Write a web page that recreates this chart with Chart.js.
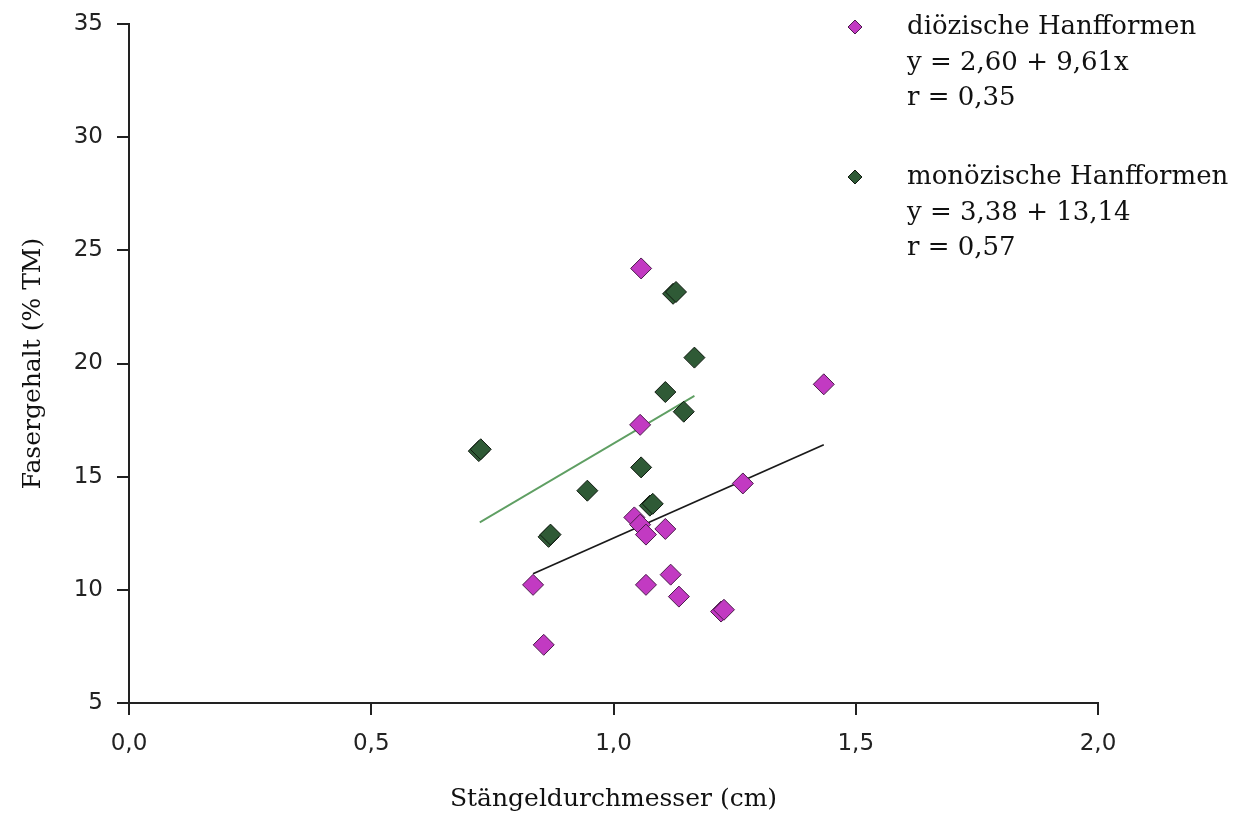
<!DOCTYPE html>
<html>
<head>
<meta charset="utf-8">
<script src="https://cdn.jsdelivr.net/npm/chart.js@4/dist/chart.umd.min.js"></script>
<style>
  html, body { margin: 0; padding: 0; background: #ffffff; }
  #wrap { width: 1236px; height: 818px; }
</style>
</head>
<body>
<div id="wrap"><canvas id="c" width="1236" height="818"></canvas></div>
<script>
// ---- data ----
const dioeX = [1.057, 1.434, 1.055, 1.267, 1.043, 1.055, 1.067, 1.107, 1.118, 0.834, 1.067, 1.135, 1.222, 1.228, 0.856];
const dioeY = [24.2, 19.08, 17.29, 14.70, 13.20, 12.88, 12.44, 12.69, 10.67, 10.22, 10.22, 9.70, 9.04, 9.12, 7.57];

const monoeX = [1.123, 1.129, 1.167, 1.107, 1.145, 0.722, 0.726, 1.057, 0.946, 1.075, 1.081, 0.866, 0.870];
const monoeY = [23.08, 23.16, 20.26, 18.74, 17.87, 16.13, 16.21, 15.41, 14.38, 13.72, 13.80, 12.34, 12.44];

const dioeLineX = [0.834, 1.434];
const dioeLineY = [10.71, 16.41];
const monoeLineX = [0.724, 1.167];
const monoeLineY = [12.98, 18.57];

const xTicks = [0, 0.5, 1.0, 1.5, 2.0];
const yTicks = [5, 10, 15, 20, 25, 30, 35];

const seriesNames = ['diözische Hanfformen', 'monözische Hanfformen'];
const legendLines = [
  ['diözische Hanfformen', 'y = 2,60 + 9,61x', 'r = 0,35'],
  ['monözische Hanfformen', 'y = 3,38 + 13,14', 'r = 0,57']
];
const xTitle = 'Stängeldurchmesser (cm)';
const yTitle = 'Fasergehalt (% TM)';

// ---- helpers ----
const zip = (xs, ys) => xs.map((x, i) => ({ x: x, y: ys[i] }));
const MAG_FILL = '#c23ac2', MAG_BORDER = '#4a1a4a';
const GRN_FILL = '#2f5a36', GRN_BORDER = '#101a10';

const legendPlugin = {
  id: 'eqLegend',
  afterDraw(chart) {
    const ctx = chart.ctx;
    const blocks = [
      { y: [27, 63, 98], fill: MAG_FILL, border: MAG_BORDER },
      { y: [177, 213, 248], fill: GRN_FILL, border: GRN_BORDER }
    ];
    ctx.save();
    blocks.forEach((b, bi) => {
      const mx = 855, my = b.y[0], r = 7;
      ctx.beginPath();
      ctx.moveTo(mx, my - r); ctx.lineTo(mx + r, my); ctx.lineTo(mx, my + r); ctx.lineTo(mx - r, my); ctx.closePath();
      ctx.fillStyle = b.fill; ctx.fill();
      ctx.lineWidth = 1; ctx.strokeStyle = b.border; ctx.stroke();
      ctx.fillStyle = '#111';
      ctx.font = '26px "DejaVu Serif"';
      ctx.textAlign = 'left';
      ctx.textBaseline = 'middle';
      legendLines[bi].forEach((t, li) => ctx.fillText(t, 907, b.y[li]));
    });
    ctx.restore();
  }
};

const fmt = v => Number(v).toFixed(1).replace('.', ',');

new Chart(document.getElementById('c'), {
  type: 'scatter',
  data: {
    datasets: [
      {
        label: seriesNames[0] + ' Regression',
        type: 'line',
        data: zip(dioeLineX, dioeLineY),
        borderColor: '#1a1a1a', borderWidth: 1.8,
        pointRadius: 0, fill: false, order: 3
      },
      {
        label: seriesNames[1] + ' Regression',
        type: 'line',
        data: zip(monoeLineX, monoeLineY),
        borderColor: '#5f9f63', borderWidth: 1.8,
        pointRadius: 0, fill: false, order: 3
      },
      {
        label: seriesNames[0],
        data: zip(dioeX, dioeY),
        pointStyle: 'rectRot', pointRadius: 10.5,
        backgroundColor: MAG_FILL, borderColor: MAG_BORDER, borderWidth: 1,
        order: 1
      },
      {
        label: seriesNames[1],
        data: zip(monoeX, monoeY),
        pointStyle: 'rectRot', pointRadius: 10.5,
        backgroundColor: GRN_FILL, borderColor: GRN_BORDER, borderWidth: 1,
        order: 2
      }
    ]
  },
  options: {
    responsive: false,
    animation: false,
    devicePixelRatio: 1,
    layout: { padding: { left: 0, right: 138, top: 24, bottom: 0 } },
    plugins: { legend: { display: false }, tooltip: { enabled: false } },
    scales: {
      x: {
        type: 'linear', min: 0, max: 2,
        afterBuildTicks: s => { s.ticks = xTicks.map(v => ({ value: v })); },
        afterFit: s => { s.height = 115; },
        grid: { drawOnChartArea: false, drawTicks: true, tickLength: 12, color: '#222', lineWidth: 2 },
        border: { display: true, color: '#222', width: 2 },
        ticks: {
          callback: v => fmt(v), padding: 15, color: '#222',
          font: { family: '"DejaVu Sans"', size: 23 }, maxRotation: 0
        },
        title: {
          display: true, text: xTitle, color: '#111',
          font: { family: '"DejaVu Serif"', size: 25 },
          padding: { top: 0, bottom: 4 }
        }
      },
      y: {
        type: 'linear', min: 5, max: 35,
        afterBuildTicks: s => { s.ticks = yTicks.map(v => ({ value: v })); },
        afterFit: s => { s.width = 129; s.paddingTop = 0; s.paddingBottom = 0; },
        grid: { drawOnChartArea: false, drawTicks: true, tickLength: 12, color: '#222', lineWidth: 2 },
        border: { display: true, color: '#222', width: 2 },
        ticks: {
          callback: v => String(v), padding: 14, color: '#222',
          font: { family: '"DejaVu Sans"', size: 23 }
        },
        title: {
          display: true, text: yTitle, color: '#111',
          font: { family: '"DejaVu Serif"', size: 25 },
          padding: { top: 18, bottom: 0 }
        }
      }
    }
  },
  plugins: [legendPlugin]
});
</script>
</body>
</html>
